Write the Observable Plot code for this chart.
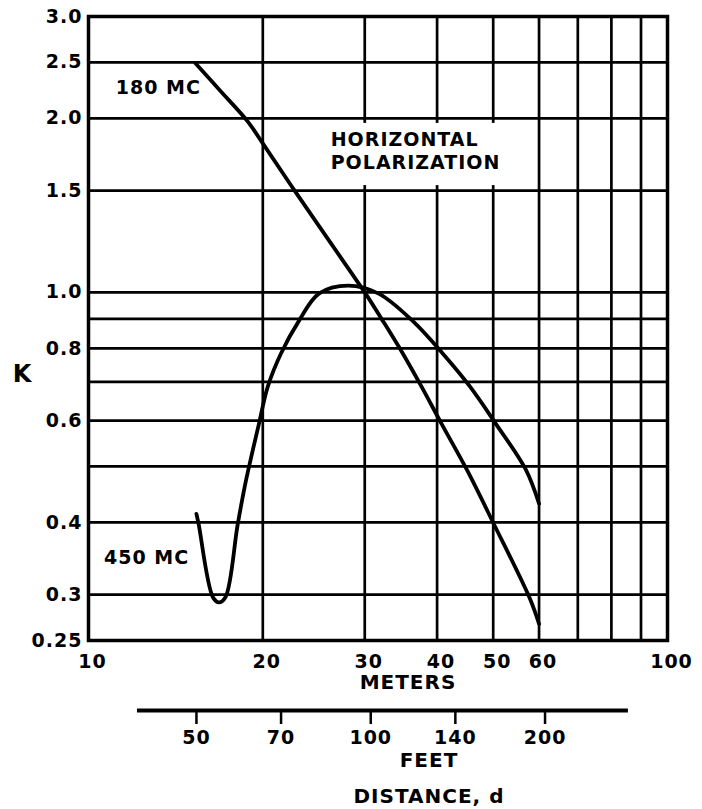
<!DOCTYPE html>
<html>
<head>
<meta charset="utf-8">
<script src="https://cdn.jsdelivr.net/npm/d3@7"></script>
<script src="https://cdn.jsdelivr.net/npm/@observablehq/plot@0.6"></script>
<style>
  body { margin: 0; background: #fff; }
</style>
</head>
<body>
<div id="chart"></div>
<script>
// ---- data ----
const xGrid = [20, 30, 40, 50, 60, 70, 80, 90];
const yGrid = [0.3, 0.4, 0.5, 0.6, 0.7, 0.8, 0.9, 1.0, 1.5, 2.0, 2.5];
const xTickLabels = [10, 20, 30, 40, 50, 60, 80, 100];
const yTickLabels = [3.0, 2.5, 2.0, 1.5, 1.0, 0.8, 0.6, 0.4, 0.3, 0.25];
const feetTicks = [50, 70, 100, 140, 200];
const feetLineMeters = [12.15, 85.6];
const FT = 0.3048;

const dist180 = [15.3, 16.9, 18.8, 20.0, 22.9, 27.5, 30.1, 32.3, 34.9, 37.6, 40.7, 45.0, 50.1, 57.8, 60.0];
const k180    = [2.49, 2.23, 1.98, 1.81, 1.48, 1.135, 0.995, 0.89, 0.784, 0.687, 0.593, 0.494, 0.398, 0.296, 0.267];

const dist450 = [15.36, 15.5, 16.4, 16.8, 17.24, 18.1, 18.7, 19.7, 20.4, 21.5, 23.05, 25.0, 28.1, 31.7, 36.4, 40.9, 45.6, 50.5, 56.9, 60.0];
const k450    = [0.414, 0.397, 0.297, 0.291, 0.297, 0.397, 0.472, 0.593, 0.687, 0.784, 0.89, 0.995, 1.027, 0.995, 0.89, 0.784, 0.687, 0.593, 0.494, 0.431];

const curveLabels = ["180 MC", "450 MC"];
const curveLabelX = [13.2, 12.6];
const curveLabelK = [2.26, 0.347];
const noteText = "HORIZONTAL\nPOLARIZATION";

// ---- build ----
const s180 = dist180.map((d, i) => ({d, k: k180[i]}));
const s450 = dist450.map((d, i) => ({d, k: k450[i]}));
const lbls = curveLabels.map((t, i) => ({t, d: curveLabelX[i], k: curveLabelK[i]}));

const font = "'DejaVu Sans', 'Liberation Sans', sans-serif";

const chart = Plot.plot({
  width: 702,
  height: 809,
  marginLeft: 88,
  marginRight: 35,
  marginTop: 16,
  marginBottom: 169,
  style: {fontFamily: font, fontWeight: "bold", background: "white", color: "black", letterSpacing: "1px", overflow: "visible"},
  x: {type: "log", domain: [10, 100]},
  y: {type: "log", domain: [0.25, 3.0]},
  marks: [
    Plot.ruleX(xGrid, {stroke: "black", strokeWidth: 2.7}),
    Plot.ruleY(yGrid, {stroke: "black", strokeWidth: 2.7}),
    Plot.rect([0], {x1: 24.5, x2: 58.6, y1: 1.53, y2: 1.96, fill: "white"}),
    Plot.frame({stroke: "black", strokeWidth: 3.5}),
    Plot.line(s180, {x: "d", y: "k", curve: "catmull-rom", stroke: "black", strokeWidth: 3.8, strokeLinecap: "round"}),
    Plot.line(s450, {x: "d", y: "k", curve: "catmull-rom", stroke: "black", strokeWidth: 3.8, strokeLinecap: "round"}),
    Plot.axisY(yTickLabels, {
      anchor: "left", tickSize: 0, tickPadding: 6, fontSize: 19, fontWeight: "bold",
      tickFormat: d => d === 0.25 ? "0.25" : d.toFixed(1), label: null
    }),
    Plot.axisX(xTickLabels, {
      anchor: "bottom", tickSize: 0, tickPadding: 14, fontSize: 19, fontWeight: "bold", dx: 4,
      tickFormat: d => String(d), label: null
    }),
    Plot.axisX(feetTicks.map(f => f * FT), {
      anchor: "bottom", tickSize: 14, tickPadding: 6, dy: 70, strokeWidth: 2.5, fontSize: 19, fontWeight: "bold", dx: 2,
      tickFormat: d => String(Math.round(d / FT)), label: null
    }),
    Plot.ruleY([0.25], {x1: feetLineMeters[0], x2: feetLineMeters[1], dy: 70, stroke: "black", strokeWidth: 4}),
    Plot.text(lbls, {x: "d", y: "k", text: "t", fontSize: 19, fontWeight: "bold", fill: "black"}),
    Plot.text([noteText], {x: 26.2, y: 1.76, textAnchor: "start", lineHeight: 1.2, fontSize: 19, fontWeight: "bold", fill: "black"}),
    Plot.text(["K"], {frameAnchor: "left", textAnchor: "middle", lineAnchor: "middle", dx: -66, dy: 46, fontSize: 24, fontWeight: "bold", fill: "black"}),
    Plot.text(["METERS"], {frameAnchor: "bottom", lineAnchor: "middle", dx: 30, dy: 42, fontSize: 20, fontWeight: "bold", fill: "black"}),
    Plot.text(["FEET"], {frameAnchor: "bottom", lineAnchor: "middle", dx: 51, dy: 120, fontSize: 20, fontWeight: "bold", fill: "black"}),
    Plot.text(["DISTANCE, d"], {frameAnchor: "bottom", lineAnchor: "middle", dx: 51, dy: 156, fontSize: 20, fontWeight: "bold", fill: "black"})
  ]
});
document.getElementById("chart").appendChild(chart);
</script>
</body>
</html>
